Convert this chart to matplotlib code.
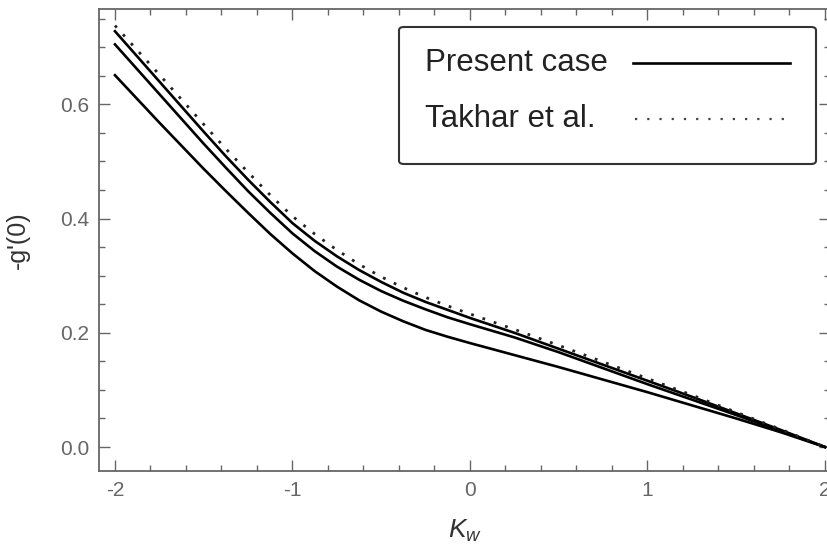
import matplotlib
matplotlib.use('Agg')
import matplotlib.pyplot as plt
from matplotlib.lines import Line2D
from matplotlib.patches import FancyBboxPatch

plt.rcParams['font.family'] = ['Liberation Sans', 'DejaVu Sans']
plt.rcParams['mathtext.fontset'] = 'custom'
plt.rcParams['mathtext.rm'] = 'Liberation Sans'
plt.rcParams['mathtext.it'] = 'Liberation Sans:italic'
plt.rcParams['axes.unicode_minus'] = False

kw = [-2, -1.75, -1.5, -1.375, -1.25, -1.125, -1, -0.875, -0.75, -0.625, -0.5, -0.375,
      -0.25, -0.125, 0, 0.25, 0.5, 0.75, 1, 1.25, 1.5, 1.75, 2]

# present case, three curves
g_low = [0.651, 0.568, 0.487, 0.448, 0.410, 0.373, 0.339, 0.308, 0.281, 0.257, 0.237, 0.220,
         0.205, 0.193, 0.182, 0.161, 0.140, 0.118, 0.096, 0.073, 0.050, 0.026, 0.0]
g_mid = [0.705, 0.618, 0.531, 0.489, 0.448, 0.410, 0.374, 0.343, 0.316, 0.293, 0.273, 0.256,
         0.241, 0.227, 0.215, 0.192, 0.166, 0.138, 0.110, 0.083, 0.056, 0.028, 0.0]
g_top = [0.728, 0.640, 0.552, 0.509, 0.468, 0.429, 0.392, 0.361, 0.334, 0.310, 0.289, 0.270,
         0.254, 0.240, 0.226, 0.200, 0.172, 0.144, 0.116, 0.088, 0.059, 0.030, 0.0]
# Takhar et al.
g_takhar = [0.738, 0.652, 0.565, 0.522, 0.481, 0.441, 0.404, 0.373, 0.345, 0.320, 0.298, 0.279,
            0.262, 0.247, 0.233, 0.206, 0.178, 0.149, 0.120, 0.091, 0.061, 0.031, 0.0]

labels = ['Present case', 'Takhar et al.']

fig = plt.figure(figsize=(8.28, 5.52), dpi=100)
ax = fig.add_axes([99/828, 81/552, 0.8832, 0.837])

ax.plot(kw, g_low, color='black', lw=1.9)
ax.plot(kw, g_mid, color='black', lw=1.9)
ax.plot(kw, g_top, color='black', lw=1.9)
ax.plot(kw, g_takhar, color='#222222', lw=2.0, linestyle=(0, (1, 3.3)))

ax.set_xlim(-2.09, 2.03)
ax.set_ylim(-0.042, 0.767)
ax.set_xticks([-2, -1, 0, 1, 2])
ax.set_xticks([-2 + 0.2 * i for i in range(21)], minor=True)
ax.set_yticks([0.0, 0.2, 0.4, 0.6])
ax.set_yticklabels(['0.0', '0.2', '0.4', '0.6'])
ax.set_yticks([0.05 * i for i in range(16)], minor=True)
ax.tick_params(which='both', direction='in', top=True, right=True, color='#666666', width=1)
ax.tick_params(which='major', length=8, labelsize=15, labelcolor='#666666', pad=7)
ax.tick_params(which='minor', length=4.5)
for s in ax.spines.values():
    s.set_color('#666666')
    s.set_linewidth(1.3)

ax.set_xlabel('$K_w$', fontsize=19, color='#333333', labelpad=13)
ax.set_ylabel("-g'(0)", fontsize=18, color='#333333', labelpad=22)

# legend box in Mathematica style: text on the left, line sample on the right
W, H = 828, 552
frame = FancyBboxPatch((399/W, 1 - 164/H), 417/W, 137/H, boxstyle='round,pad=0,rounding_size=0.006',
                       transform=fig.transFigure, facecolor='white', edgecolor='#333333', lw=1.5)
fig.add_artist(frame)
fig.text(425/W, 1 - 63/H, labels[0], fontsize=22.5, color='#222222', va='center')
fig.text(425/W, 1 - 119/H, labels[1], fontsize=22.5, color='#222222', va='center')
fig.add_artist(Line2D([633/W, 790/W], [1 - 63/H] * 2, transform=fig.transFigure, color='black', lw=1.9))
fig.add_artist(Line2D([635/W, 790/W], [1 - 119/H] * 2, transform=fig.transFigure, color='#444444',
                      lw=1.6, linestyle=(0, (1, 4.5))))

fig.savefig('out.png', dpi=100)
